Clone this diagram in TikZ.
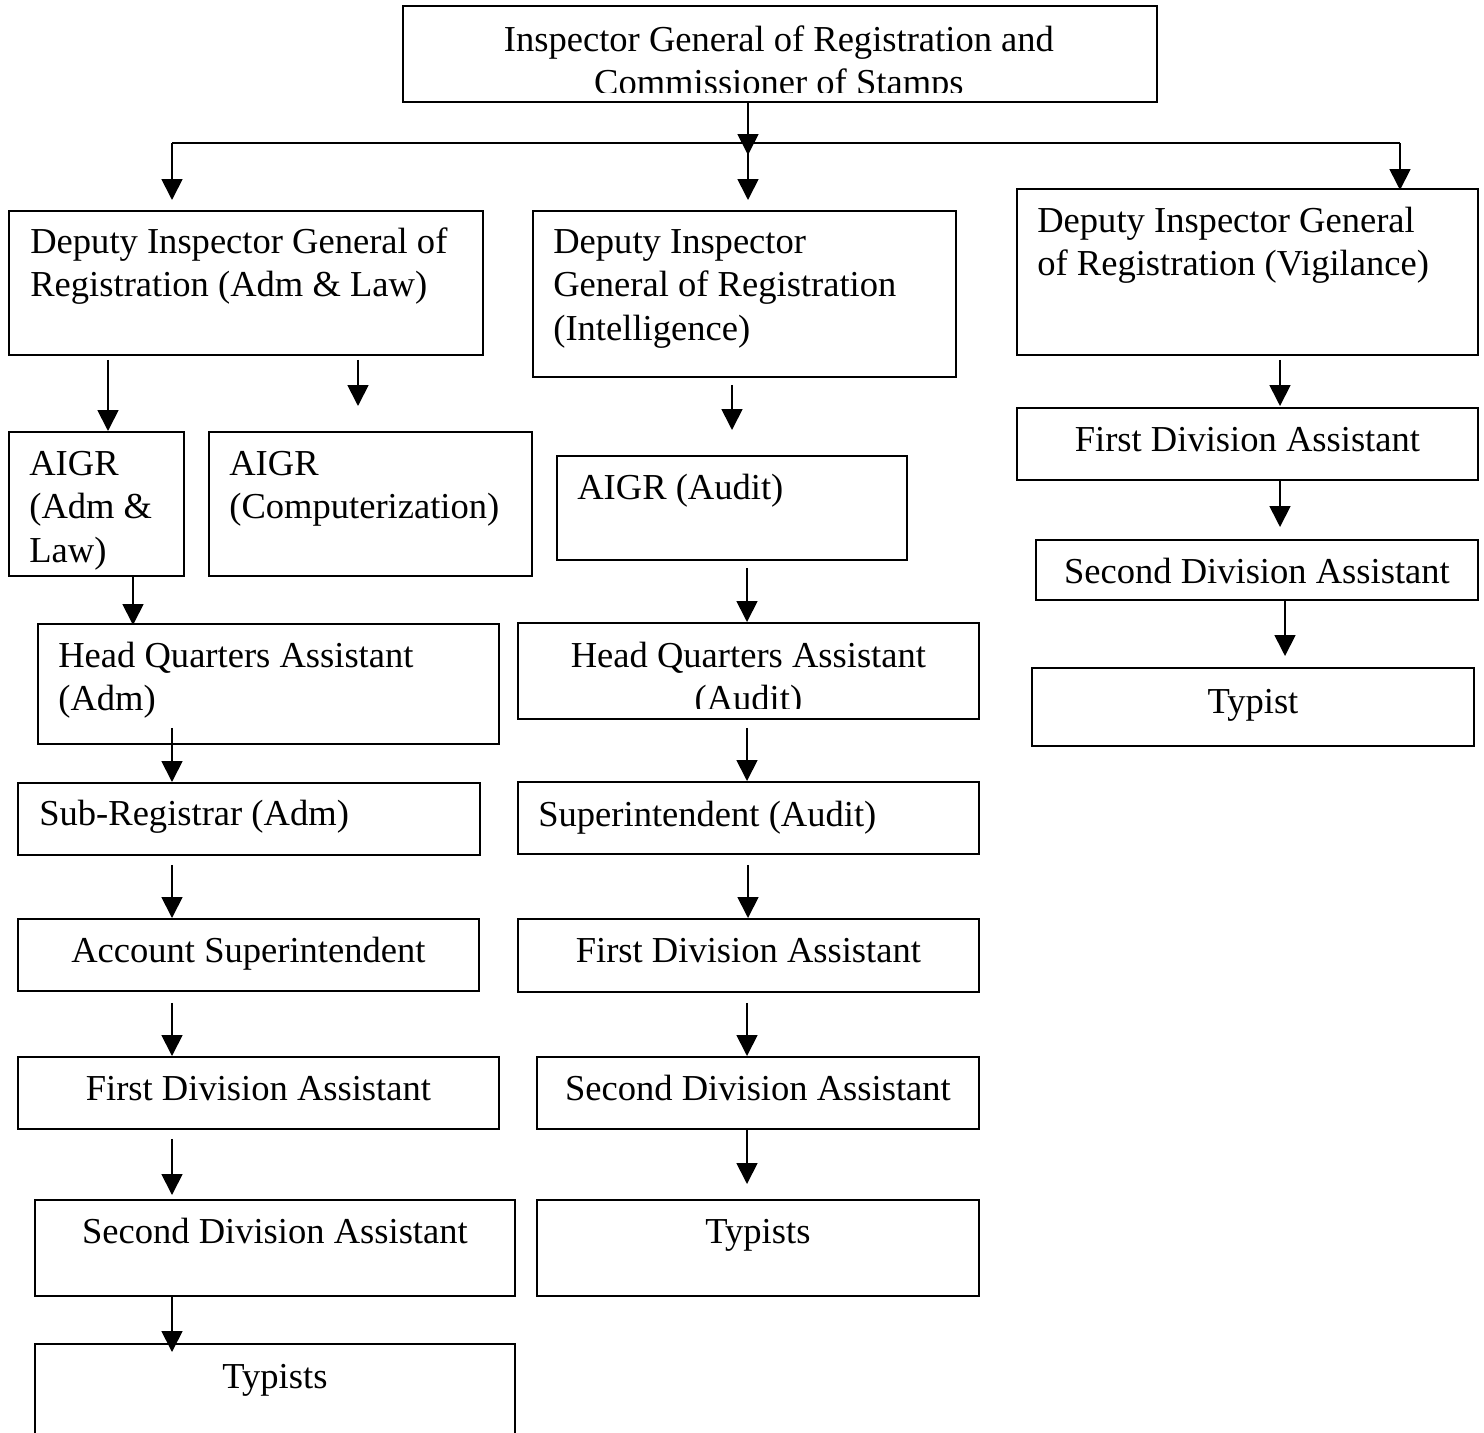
\documentclass[tikz,border=0pt]{standalone}
\usepackage{fontspec}
\setmainfont{Liberation Serif}
\usepackage{tikz}
\usetikzlibrary{arrows.meta}
\newcommand{\orgfont}{\fontsize{20.8}{24.75}\selectfont}

\begin{document}
\begin{tikzpicture}[
  x=0.02cm, y=-0.02cm,
  >={Triangle[width=0.42cm,length=0.42cm]},
  box/.style={draw, line width=1.1pt, inner sep=0pt, anchor=north west},
  txt/.style={inner sep=0pt, font=\orgfont, align=left, anchor=north west},
  ctxt/.style={inner sep=0pt, font=\orgfont, align=center, anchor=north},
  arr/.style={->, line width=1pt}
]
\useasboundingbox (0,0) rectangle (1484,1433);

% --- Top: Inspector General ---
\node[box, minimum width=15.08cm, minimum height=1.92cm] (ig) at (402,5) {};
\begin{scope}
  \clip (ig.north west) rectangle ([shift={(0,-10)}]ig.south east);
  \node[ctxt] (igt) at ([shift={(-1,15.5)}]ig.north)
    {\strut Inspector General of Registration and\\Commissioner of Stamps};
\end{scope}

% --- Branch line ---
\coordinate (busl) at (172,143);
\coordinate (busm) at (748,143);
\coordinate (busr) at (1400,143);

% --- Deputy Inspectors General ---
\node[box, minimum width=9.48cm, minimum height=2.88cm] (dal) at (8,210) {};
\node[txt] (dalt) at ([shift={(22,12.5)}]dal.north west)
  {\strut Deputy Inspector General of\\Registration (Adm \& Law)};
\node[box, minimum width=8.46cm, minimum height=3.32cm] (dint) at (532,210) {};
\node[txt] (dintt) at ([shift={(21,12.5)}]dint.north west)
  {\strut Deputy Inspector\\General of Registration\\(Intelligence)};
\node[box, minimum width=9.22cm, minimum height=3.32cm] (dvig) at (1016,188) {};
\node[txt] (dvigt) at ([shift={(21,13.5)}]dvig.north west)
  {\strut Deputy Inspector General\\of Registration (Vigilance)};

% --- Left column ---
\node[box, minimum width=3.50cm, minimum height=2.88cm] (aal) at (8,431) {};
\node[txt] (aalt) at ([shift={(21,13.5)}]aal.north west) {\strut AIGR\\(Adm \&\\Law)};
\node[box, minimum width=6.46cm, minimum height=2.88cm] (acomp) at (208,431) {};
\node[txt] (acompt) at ([shift={(21,13.5)}]acomp.north west) {\strut AIGR\\(Computerization)};
\node[box, minimum width=9.22cm, minimum height=2.40cm] (hqadm) at (37,623) {};
\node[txt] (hqadmt) at ([shift={(21,13.5)}]hqadm.north west) {\strut Head Quarters Assistant\\(Adm)};
\node[box, minimum width=9.24cm, minimum height=1.44cm] (sradm) at (17,782) {};
\node[txt] (sradmt) at ([shift={(22,12.5)}]sradm.north west) {\strut Sub-Registrar (Adm)};
\node[box, minimum width=9.22cm, minimum height=1.44cm] (accsup) at (17,918) {};
\node[ctxt] (accsupt) at ([shift={(0,13.5)}]accsup.north) {\strut Account Superintendent};
\node[box, minimum width=9.62cm, minimum height=1.44cm] (fdal) at (17,1056) {};
\node[ctxt] (fdalt) at ([shift={(0,13.5)}]fdal.north) {\strut First Division Assistant};
\node[box, minimum width=9.60cm, minimum height=1.92cm] (sdal) at (34,1199) {};
\node[ctxt] (sdalt) at ([shift={(0,13.5)}]sdal.north) {\strut Second Division Assistant};
\node[box, minimum width=9.60cm, minimum height=2.20cm] (typl) at (34,1343) {};
\node[ctxt] (typlt) at ([shift={(0,14.5)}]typl.north) {\strut Typists};

% --- Middle column ---
\node[box, minimum width=7.00cm, minimum height=2.08cm] (aaud) at (556,455) {};
\node[txt] (aaudt) at ([shift={(21,13.5)}]aaud.north west) {\strut AIGR (Audit)};
\node[box, minimum width=9.22cm, minimum height=1.92cm] (hqaud) at (517,622) {};
\begin{scope}
  \clip (hqaud.north west) rectangle ([shift={(0,-11)}]hqaud.south east);
  \node[ctxt] (hqaudt) at ([shift={(0,14.5)}]hqaud.north)
    {\strut Head Quarters Assistant\\(Audit)};
\end{scope}
\node[box, minimum width=9.22cm, minimum height=1.44cm] (supaud) at (517,781) {};
\node[txt] (supaudt) at ([shift={(21,14.5)}]supaud.north west) {\strut Superintendent (Audit)};
\node[box, minimum width=9.22cm, minimum height=1.46cm] (fdam) at (517,918) {};
\node[ctxt] (fdamt) at ([shift={(0,13.5)}]fdam.north) {\strut First Division Assistant};
\node[box, minimum width=8.84cm, minimum height=1.44cm] (sdam) at (536,1056) {};
\node[ctxt] (sdamt) at ([shift={(0,13.5)}]sdam.north) {\strut Second Division Assistant};
\node[box, minimum width=8.84cm, minimum height=1.92cm] (typm) at (536,1199) {};
\node[ctxt] (typmt) at ([shift={(0,13.5)}]typm.north) {\strut Typists};

% --- Right column ---
\node[box, minimum width=9.22cm, minimum height=1.44cm] (fdar) at (1016,407) {};
\node[ctxt] (fdart) at ([shift={(0,13.5)}]fdar.north) {\strut First Division Assistant};
\node[box, minimum width=8.84cm, minimum height=1.20cm] (sdar) at (1035,539) {};
\node[ctxt] (sdart) at ([shift={(0,13.5)}]sdar.north) {\strut Second Division Assistant};
\node[box, minimum width=8.84cm, minimum height=1.56cm] (typr) at (1031,667) {};
\node[ctxt] (typrt) at ([shift={(0,15.5)}]typr.north) {\strut Typist};

% --- Arrows from the top ---
\draw[arr] (ig.south -| busm) -- ([shift={(0,12)}]busm);
\draw[line width=1pt] (busl) -- (busr);
\draw[arr] (busl) -- ([shift={(164,-10)}]dal.north west);
\draw[arr] (busm) -- ([shift={(216,-10)}]dint.north west);
\draw[arr] (busr) -- ([shift={(384,2)}]dvig.north west);

% --- Left column arrows ---
\draw[arr] ([shift={(100,4)}]dal.south west) -- ([shift={(100,0)}]aal.north west);
\draw[arr] ([shift={(350,4)}]dal.south west) -- ([shift={(150,-25)}]acomp.north west);
\draw[arr] ([shift={(125,0)}]aal.south west) -- ([shift={(96,2)}]hqadm.north west);
\draw[arr] ([shift={(135,-17)}]hqadm.south west) -- ([shift={(155,0)}]sradm.north west);
\draw[arr] ([shift={(155,9)}]sradm.south west) -- ([shift={(155,0)}]accsup.north west);
\draw[arr] ([shift={(155,11)}]accsup.south west) -- ([shift={(155,0)}]fdal.north west);
\draw[arr] ([shift={(155,9)}]fdal.south west) -- ([shift={(138,-4)}]sdal.north west);
\draw[arr] ([shift={(138,0)}]sdal.south west) -- ([shift={(138,9)}]typl.north west);

% --- Middle column arrows ---
\draw[arr] ([shift={(200,7)}]dint.south west) -- ([shift={(176,-25)}]aaud.north west);
\draw[arr] ([shift={(191,7)}]aaud.south west) -- ([shift={(230,0)}]hqaud.north west);
\draw[arr] ([shift={(230,8)}]hqaud.south west) -- ([shift={(230,0)}]supaud.north west);
\draw[arr] ([shift={(231,10)}]supaud.south west) -- ([shift={(231,0)}]fdam.north west);
\draw[arr] ([shift={(230,10)}]fdam.south west) -- ([shift={(211,0)}]sdam.north west);
\draw[arr] ([shift={(211,0)}]sdam.south west) -- ([shift={(211,-15)}]typm.north west);

% --- Right column arrows ---
\draw[arr] ([shift={(264,4)}]dvig.south west) -- ([shift={(264,-1)}]fdar.north west);
\draw[arr] ([shift={(264,0)}]fdar.south west) -- ([shift={(245,-12)}]sdar.north west);
\draw[arr] ([shift={(250,0)}]sdar.south west) -- ([shift={(254,-11)}]typr.north west);

\end{tikzpicture}
\end{document}
